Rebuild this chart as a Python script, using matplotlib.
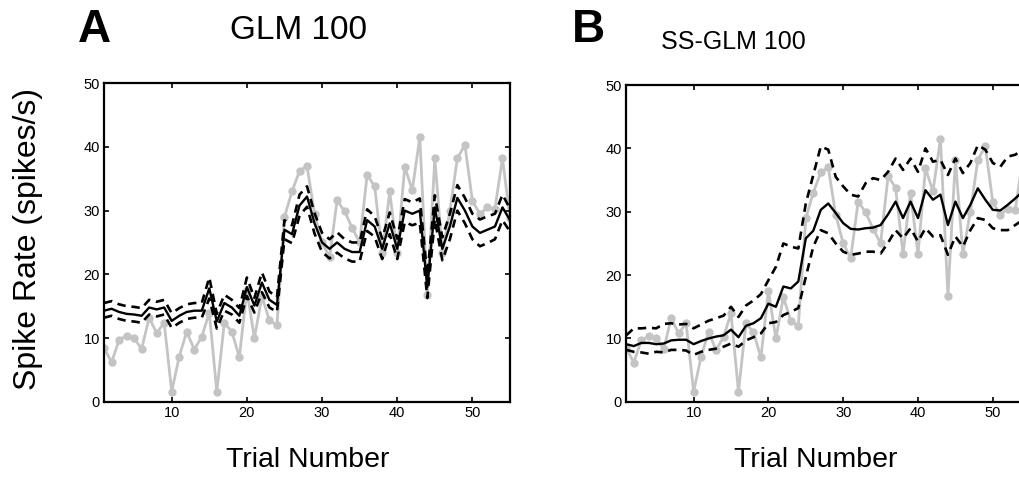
import matplotlib
matplotlib.use("Agg")
import matplotlib.pyplot as plt
import numpy as np

plt.rcParams['font.family'] = ['Liberation Sans', 'DejaVu Sans']

# trial numbers
trials = np.arange(1, 56)

# observed spike rate (gray dots), same in both panels
observed = [8.5, 6.2, 9.7, 10.4, 10.0, 8.3, 13.2, 10.8, 12.4, 1.6,
            7.1, 11.0, 8.2, 10.2, 14.0, 1.6, 12.4, 11.0, 7.0, 17.5,
            10.0, 16.5, 12.8, 12.0, 29.0, 33.0, 36.2, 37.0, 29.5, 25.0,
            22.7, 31.6, 29.9, 27.3, 25.0, 35.6, 33.8, 23.3, 33.0, 23.3,
            36.9, 33.2, 41.5, 16.7, 38.2, 23.3, 30.0, 38.2, 40.3, 31.5,
            29.5, 30.5, 30.3, 38.2, 28.8]

# panel A: GLM 100 estimate and confidence bounds
glm_mid = [14.3, 14.6, 14.1, 13.8, 13.7, 13.5, 14.8, 14.5, 14.8, 12.7,
           13.5, 14.1, 14.3, 14.3, 17.8, 12.6, 15.5, 14.8, 13.5, 18.0,
           15.1, 18.7, 16.0, 15.2, 27.0, 26.3, 30.8, 32.2, 28.0, 25.0,
           24.0, 25.0, 24.0, 23.5, 23.5, 28.5, 27.5, 24.0, 28.0, 24.0,
           30.0, 29.5, 30.0, 18.0, 30.5, 24.0, 27.5, 32.0, 30.0, 27.5,
           26.5, 27.0, 27.5, 30.5, 28.5]
glm_hi = [15.5, 15.8, 15.3, 15.0, 14.9, 14.7, 16.0, 15.7, 16.0, 13.9,
          14.7, 15.3, 15.5, 15.5, 19.5, 13.8, 16.8, 16.0, 14.7, 19.5,
          16.3, 20.3, 17.3, 16.4, 28.5, 27.7, 32.5, 33.8, 29.6, 26.5,
          25.5, 26.6, 25.5, 25.0, 25.0, 30.2, 29.1, 25.6, 29.7, 25.6,
          31.8, 31.3, 31.9, 19.8, 32.4, 25.8, 29.5, 34.0, 32.0, 29.5,
          28.6, 29.1, 29.5, 32.5, 30.3]
glm_lo = [13.2, 13.5, 13.0, 12.7, 12.6, 12.4, 13.7, 13.4, 13.7, 11.6,
          12.4, 13.0, 13.2, 13.2, 16.2, 11.5, 14.3, 13.7, 12.4, 16.6,
          14.0, 17.2, 14.8, 14.1, 25.5, 24.9, 29.2, 30.6, 26.4, 23.5,
          22.5, 23.4, 22.5, 22.0, 22.0, 26.8, 25.9, 22.4, 26.3, 22.4,
          28.2, 27.7, 28.1, 16.3, 28.6, 22.2, 25.5, 30.0, 28.0, 25.5,
          24.4, 24.9, 25.5, 28.5, 26.7]

# panel B: SS-GLM 100 estimate and confidence bounds
ss_mid = [9.1, 8.8, 9.3, 9.3, 9.1, 9.2, 9.7, 9.8, 9.8, 9.1,
          9.6, 10.0, 10.3, 10.5, 11.4, 10.2, 12.0, 12.4, 13.2, 15.5,
          15.0, 18.2, 17.9, 19.0, 25.8, 27.0, 30.3, 31.3, 29.8, 28.2,
          27.3, 27.2, 27.4, 27.5, 27.9, 29.6, 31.6, 29.0, 31.6, 29.0,
          33.4, 31.9, 32.7, 27.9, 31.6, 29.0, 31.1, 33.7, 31.9, 30.3,
          30.2, 31.1, 32.1, 33.2, 34.0]
ss_hi = [10.5, 11.6, 11.6, 11.7, 11.6, 12.3, 12.4, 12.2, 12.3, 11.6,
         12.2, 12.8, 13.2, 13.6, 15.0, 13.4, 15.2, 16.0, 17.0, 19.2,
         21.3, 25.0, 24.5, 24.2, 31.3, 35.8, 40.3, 39.8, 35.5, 34.0,
         32.7, 32.4, 34.5, 35.3, 35.0, 36.3, 38.4, 36.6, 38.4, 36.3,
         40.0, 37.9, 38.2, 35.8, 38.4, 36.1, 37.7, 40.5, 39.8, 37.7,
         37.1, 38.7, 39.0, 39.8, 40.0]
ss_lo = [8.2, 7.9, 7.8, 7.6, 7.9, 7.8, 8.2, 8.2, 8.1, 7.4,
         7.9, 8.2, 8.4, 8.7, 9.2, 8.7, 9.7, 10.2, 10.8, 12.4,
         12.6, 13.7, 14.2, 14.8, 19.7, 24.5, 27.1, 26.6, 25.0, 23.7,
         23.2, 23.4, 23.7, 23.7, 23.4, 25.1, 27.1, 25.8, 27.4, 25.3,
         27.4, 26.1, 26.3, 23.2, 26.1, 24.5, 27.1, 29.0, 28.7, 27.4,
         27.1, 27.1, 27.9, 28.7, 29.0]

gray = '#c4c4c4'

fig = plt.figure(figsize=(10.2, 4.83), dpi=100)
axA = fig.add_axes([0.102, 0.168, 0.398, 0.660])
axB = fig.add_axes([0.614, 0.168, 0.396, 0.656])


def draw(ax, mid, hi, lo):
    ax.plot(trials, observed, '-o', color=gray, lw=2.0, ms=5, zorder=1)
    ax.plot(trials, hi, '--', color='k', lw=1.9, dashes=(3.2, 2.2), zorder=2)
    ax.plot(trials, lo, '--', color='k', lw=1.9, dashes=(3.2, 2.2), zorder=2)
    ax.plot(trials, mid, '-', color='k', lw=1.7, zorder=3)
    ax.set_xlim(1, 55)
    ax.set_ylim(0, 50)
    ax.set_xticks([10, 20, 30, 40, 50])
    ax.set_yticks([0, 10, 20, 30, 40, 50])
    ax.tick_params(direction='in', length=3.5, width=1.2, top=True, right=True,
                   labelsize=10.5, pad=3)
    for s in ax.spines.values():
        s.set_linewidth(1.6)


draw(axA, glm_mid, glm_hi, glm_lo)
draw(axB, ss_mid, ss_hi, ss_lo)

fig.text(0.027, 0.505, 'Spike Rate (spikes/s)', fontsize=23, rotation=90,
         ha='center', va='center')

fig.text(0.302, 0.047, 'Trial Number', fontsize=20.5, ha='center', va='center')
fig.text(0.800, 0.047, 'Trial Number', fontsize=20.5, ha='center', va='center')

fig.text(0.076, 0.937, 'A', fontsize=33, fontweight='bold', ha='left', va='center')
fig.text(0.293, 0.937, 'GLM 100', fontsize=24, ha='center', va='center')
fig.text(0.561, 0.937, 'B', fontsize=33, fontweight='bold', ha='left', va='center')
fig.text(0.719, 0.913, 'SS-GLM 100', fontsize=18, ha='center', va='center')

fig.savefig('out.png', dpi=100)
